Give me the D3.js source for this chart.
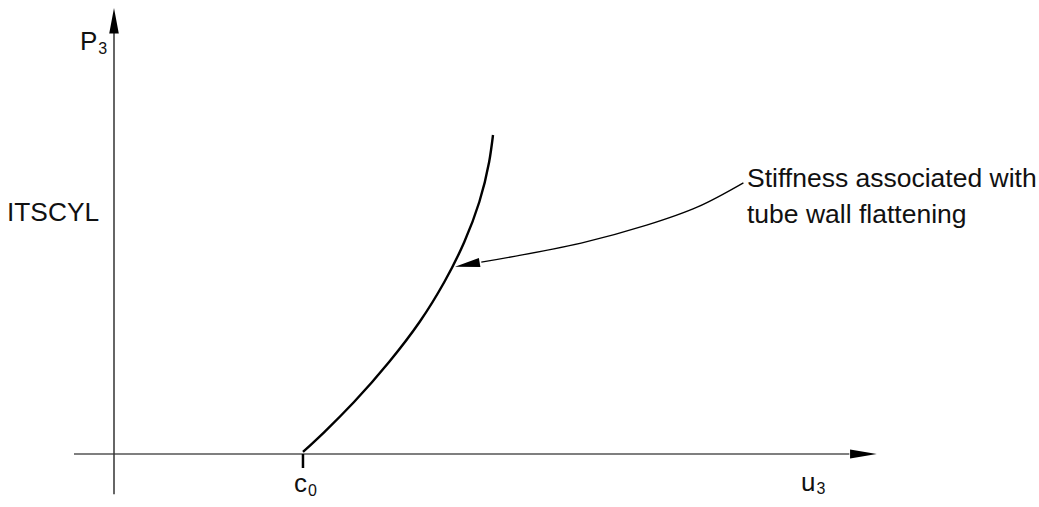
<!DOCTYPE html>
<html>
<head>
<meta charset="utf-8">
<script src="https://cdn.jsdelivr.net/npm/d3@7/dist/d3.min.js"></script>
<style>
  html, body { margin: 0; padding: 0; background: #fff; }
  svg { display: block; }
  text { font-family: "Liberation Sans", Arial, Helvetica, sans-serif; fill: #111; }
</style>
</head>
<body>
<svg id="chart" width="1039" height="507"></svg>
<script>
// ---- data (arbitrary units: u3 displacement, P3 load) ----
const curveU = [24.8, 27.6, 31.5, 36.1, 40.1, 43.35, 45.97, 47.94, 49.23, 49.74];
const curveP = [0.45, 4.93, 11.66, 20.63, 29.6, 38.57, 47.53, 56.5, 65.47, 71.52];
const c0Value = 24.8;
const xAxisLabel = ["u", "3"];
const yAxisLabel = ["P", "3"];
const yCategoryLabel = "ITSCYL";
const c0Label = ["c", "0"];
const annotationLines = ["Stiffness associated with", "tube wall flattening"];
// annotation leader path (data units), ending at the arrow tip on the curve
const leaderU = [82.6, 76.6, 69.9, 61.3, 48.2, 44.75];
const leaderP = [60.8, 55.4, 51.3, 47.3, 43.0, 42.0];

const svg = d3.select("#chart");
const x = d3.scaleLinear().domain([0, 100]).range([114, 876]);
const y = d3.scaleLinear().domain([0, 100]).range([454, 8]);

// ---- axes ----
// x axis
svg.append("line")
  .attr("x1", x(-5.25)).attr("x2", x(96.5))
  .attr("y1", y(0)).attr("y2", y(0))
  .attr("stroke", "#555").attr("stroke-width", 1.5);
svg.append("path")
  .attr("d", `M${x(100.1)},${y(0)} L${x(96.6)},${y(0) - 4.6} L${x(96.6)},${y(0) + 4.6} Z`)
  .attr("fill", "#000");
// y axis
svg.append("line")
  .attr("x1", x(0)).attr("x2", x(0))
  .attr("y1", y(-9)).attr("y2", y(94.5))
  .attr("stroke", "#333").attr("stroke-width", 1.5);
svg.append("path")
  .attr("d", `M${x(0)},${y(100)} L${x(0) - 4.8},${y(94.3)} L${x(0) + 4.8},${y(94.3)} Z`)
  .attr("fill", "#000");

// c0 tick
svg.append("line")
  .attr("x1", x(c0Value)).attr("x2", x(c0Value))
  .attr("y1", y(0)).attr("y2", y(0) + 14)
  .attr("stroke", "#000").attr("stroke-width", 2.5);

// ---- curve ----
const pts = curveU.map((u, i) => [x(u), y(curveP[i])]);
svg.append("path")
  .attr("d", d3.line().curve(d3.curveMonotoneY)(pts))
  .attr("fill", "none").attr("stroke", "#000").attr("stroke-width", 2.4)
  .attr("stroke-linecap", "butt");

// ---- annotation leader ----
const lpts = leaderU.map((u, i) => [x(u), y(leaderP[i])]);
svg.append("path")
  .attr("d", d3.line().curve(d3.curveCatmullRom)(lpts.slice(0, lpts.length - 1)))
  .attr("fill", "none").attr("stroke", "#000").attr("stroke-width", 1.3);
// arrowhead
{
  const tip = lpts[lpts.length - 1];
  const base = lpts[lpts.length - 2];
  const dx = base[0] - tip[0], dy = base[1] - tip[1];
  const len = Math.hypot(dx, dy);
  const ux = dx / len, uy = dy / len;
  const L = 25, W = 4.6;
  const bx = tip[0] + ux * L, by = tip[1] + uy * L;
  svg.append("path")
    .attr("d", `M${tip[0]},${tip[1]} L${bx - uy * W},${by + ux * W} L${bx + uy * W},${by - ux * W} Z`)
    .attr("fill", "#000");
}

// ---- text ----
function subText(xp, yp, parts, size, subSize, subDy) {
  const t = svg.append("text").attr("x", xp).attr("y", yp).attr("font-size", size);
  t.append("tspan").text(parts[0]);
  t.append("tspan").attr("font-size", subSize).attr("dy", subDy).attr("dx", 1).text(parts[1]);
  return t;
}
subText(80, 50, yAxisLabel, 26, 16, 4);
subText(294, 491.5, c0Label, 26, 16, 4.5);
subText(801, 491, xAxisLabel, 26, 16, 3);

svg.append("text").attr("x", 7).attr("y", 221).attr("font-size", 26.3).text(yCategoryLabel);

const ann = svg.append("text").attr("font-size", 26.5);
annotationLines.forEach((s, i) => {
  ann.append("tspan").attr("x", 747).attr("y", 187 + i * 36).text(s);
});
</script>
</body>
</html>
